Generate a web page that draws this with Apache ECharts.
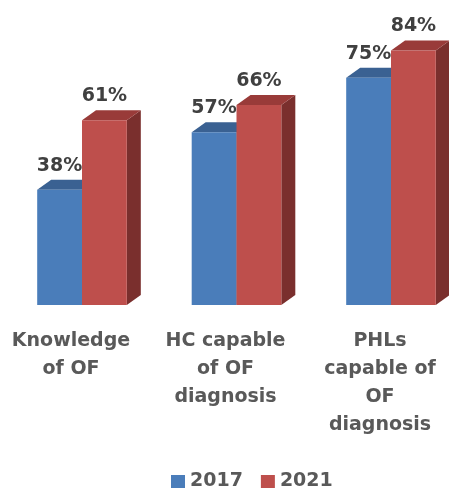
<!DOCTYPE html>
<html><head><meta charset="utf-8">
<script src="https://cdn.jsdelivr.net/npm/echarts@6/dist/echarts.min.js"></script>
<style>html,body{margin:0;padding:0;background:#fff}#c{width:449px;height:491px}</style>
</head><body><div id="c"></div>
<script>
const categories = ['Knowledge\nof OF', 'HC capable\nof OF\ndiagnosis', 'PHLs\ncapable of\nOF\ndiagnosis'];
const seriesNames = ['2017', '2021'];
const values2017 = [38, 57, 75];
const values2021 = [61, 66, 84];

const palette = [
  { front: '#4A7DBA', top: '#3A6192', side: '#2F4F78' },
  { front: '#BE4F4C', top: '#993B39', side: '#7A2F2D' }
];
const FONT = '"DejaVu Sans", sans-serif';
const DX = 14, DY = 10;

function makeRender(si) {
  return function (params, api) {
    const idx = api.value(0), val = api.value(1);
    const base = api.coord([idx, 0]);
    const top = api.coord([idx, val]);
    const c = base[0];
    const w = api.size([1, 0])[0] * 0.29;
    const x0 = si === 0 ? c - w : c;
    const x1 = x0 + w;
    const yb = base[1], yt = top[1];
    const col = palette[si];
    return {
      type: 'group',
      children: [
        { type: 'polygon', shape: { points: [[x1, yt], [x1 + DX, yt - DY], [x1 + DX, yb - DY], [x1, yb]] }, style: { fill: col.side } },
        { type: 'polygon', shape: { points: [[x0, yt], [x0 + DX, yt - DY], [x1 + DX, yt - DY], [x1, yt]] }, style: { fill: col.top } },
        { type: 'rect', shape: { x: x0, y: yt, width: w, height: yb - yt }, style: { fill: col.front } },
        { type: 'text', x: (x0 + x1) / 2, y: yt - 24, style: { text: val + '%', fill: '#404040', fontSize: 19, fontWeight: 'bold', fontFamily: FONT, align: 'center', verticalAlign: 'middle' } }
      ]
    };
  };
}

const chart = echarts.init(document.getElementById('c'));
chart.setOption({
  animation: false,
  grid: { left: 4.75, width: 463.5, top: 2, bottom: 186, outerBoundsMode: 'none', containLabel: false },
  legend: {
    data: seriesNames, left: 171, top: 472, padding: 0, icon: 'rect', itemWidth: 14, itemHeight: 13, itemGap: 18,
    textStyle: { color: '#595959', fontSize: 19, fontWeight: 'bold', fontFamily: FONT }
  },
  xAxis: {
    type: 'category', data: categories,
    axisLine: { show: false }, axisTick: { show: false },
    axisLabel: { interval: 0, margin: 22, color: '#595959', fontSize: 19, fontWeight: 'bold', fontFamily: FONT, lineHeight: 28, padding: [0, 22, 0, 0] }
  },
  yAxis: { type: 'value', min: 0, max: 100, show: false },
  series: [
    { name: seriesNames[0], type: 'custom', renderItem: makeRender(0), itemStyle: { color: palette[0].front }, encode: { x: 0, y: 1 }, data: values2017.map((v, i) => [i, v]) },
    { name: seriesNames[1], type: 'custom', renderItem: makeRender(1), itemStyle: { color: palette[1].front }, encode: { x: 0, y: 1 }, data: values2021.map((v, i) => [i, v]) }
  ]
});
</script></body></html>
